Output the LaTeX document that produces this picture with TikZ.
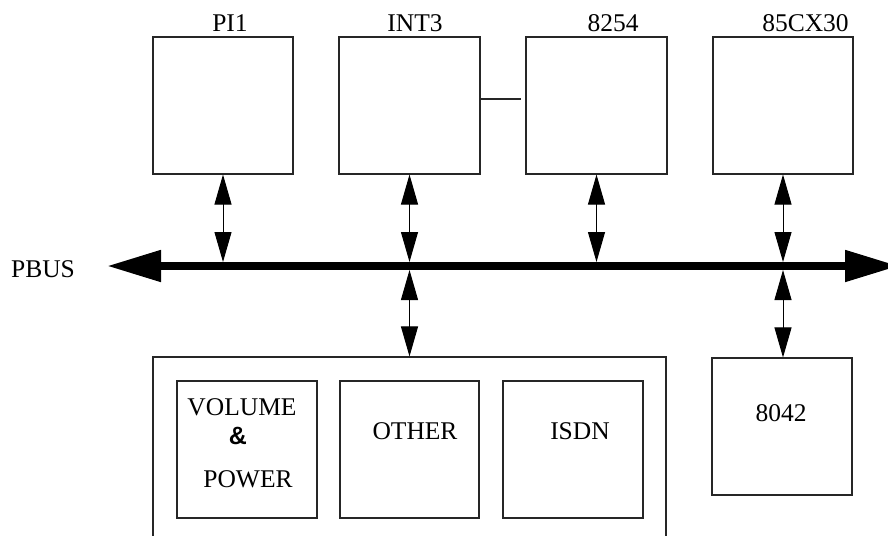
\documentclass[tikz,border=0pt]{standalone}
\usepackage{fontspec}
\setmainfont{Liberation Serif}
\newfontfamily\sansbold{Liberation Sans}[BoldFont={* Bold}]
\usetikzlibrary{arrows.meta}
\begin{document}
\begin{tikzpicture}[x=1pt,y=-1pt,
  box/.style={draw=black!85,line width=1.1pt,rectangle,inner sep=0pt,minimum width=140pt,minimum height=137pt},
  lbl/.style={inner sep=0pt,anchor=base,font=\fontsize{25.5}{30}\selectfont},
  link/.style={draw=black,line width=1pt,{Triangle[length=30pt,width=17pt]}-{Triangle[length=30pt,width=17pt]}},
  bus/.style={line width=8pt,{Triangle[length=54pt,width=30pt]}-{Triangle[length=54pt,width=30pt]}}]
\useasboundingbox (0,0) rectangle (888,535);
% top boxes
\node[box] (pi)  at (223,105.5) {};
\node[box,minimum width=141pt] (int) at (409.5,105.5) {};
\node[box,minimum width=141pt] (tim) at (596.5,105.5) {};
\node[box] (cx)  at (783,105.5) {};
\node[lbl] (lpi)  at (230,32) {PI1};
\node[lbl] (lint) at (415,32) {INT3};
\node[lbl] (ltim) at (613,32) {8254};
\node[lbl] (lcx)  at (805.5,32) {85CX30};
% link between INT3 and 8254
\coordinate (lk) at (521,99);
\draw[draw=black!85,line width=1.1pt] (int.east |- lk) -- (lk);
% bus
\coordinate (busL) at (107,266);
\coordinate (busR) at (899,266);
\draw[bus] (busL) -- (busR);
\node[lbl] (pbus) at (43,277) {PBUS};
% bottom boxes
\node[box,minimum width=513pt,minimum height=210pt] (big) at (409.5,462) {};
\node[box] (vol)   at (247,449.5) {};
\node[box,minimum width=139pt] (oth) at (409.5,449.5) {};
\node[box] (isdn)  at (573,449.5) {};
\node[box] (kbd)   at (782,426.5) {};
\node[lbl] (tvol) at (242,415) {VOLUME};
\node[lbl,font=\sansbold\bfseries\fontsize{25}{30}\selectfont] (tamp) at (238,444) {\&};
\node[lbl] (tpow) at (248,487) {POWER};
\node[lbl] (toth) at (415,439) {OTHER};
\node[lbl] (tisd) at (580,439) {ISDN};
\node[lbl] (tkbd) at (781,421) {8042};
% bus attachment points
\coordinate (t1) at (223,262);
\coordinate (t2) at (409.5,262);
\coordinate (t3) at (596.5,262);
\coordinate (t4) at (783,262);
\coordinate (u2) at (409.5,270);
\coordinate (u4) at (783,270);
\draw[link] (pi.south) -- (t1);
\draw[link] (int.south) -- (t2);
\draw[link] (tim.south) -- (t3);
\draw[link] (cx.south) -- (t4);
\draw[link] (u2) -- (big.north);
\draw[link] (u4) -- (u4 |- kbd.north);
\end{tikzpicture}
\end{document}
